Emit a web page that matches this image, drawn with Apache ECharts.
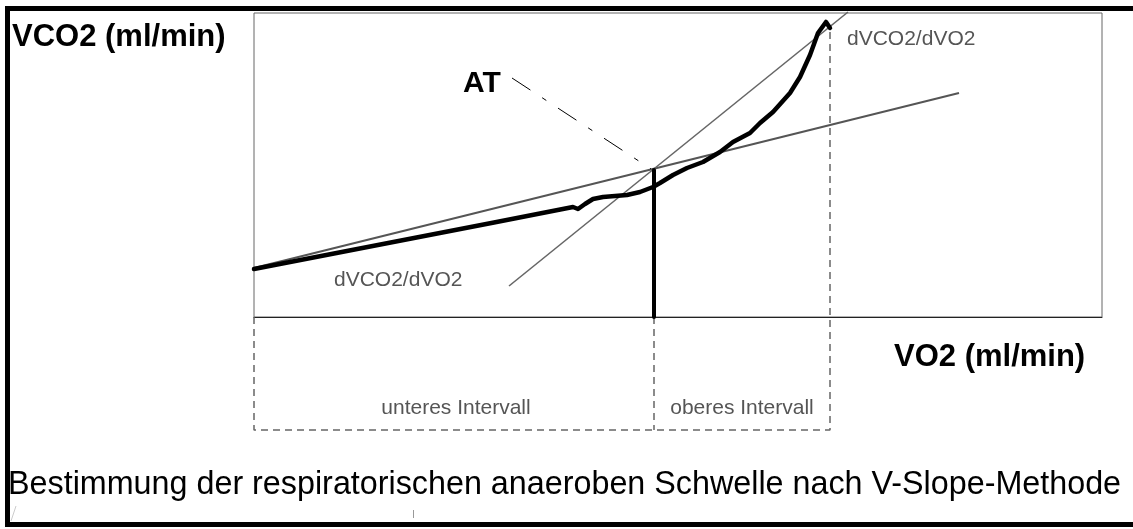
<!DOCTYPE html>
<html><head><meta charset="utf-8">
<script src="https://cdn.jsdelivr.net/npm/echarts@6/dist/echarts.min.js"></script>
<style>html,body{margin:0;padding:0;background:#fff}#c{width:1133px;height:529px}</style>
</head><body><div id="c"></div>
<script>
const curveVO2  = [0, 80, 160, 240, 319, 324, 331, 339, 349, 361, 373, 386, 399, 406, 419, 433, 449, 466, 479, 496, 506, 519, 536, 546, 556, 564, 572, 576];
const curveVCO2 = [48, 63.5, 79, 94.5, 110, 108, 113, 118, 120, 121, 122, 125, 130, 134, 142, 149, 155, 165, 175, 184, 194, 205, 224, 240, 262, 284, 295, 289];
// regression lines (dVCO2/dVO2)
const lowerSlopeVO2  = [0, 705];
const lowerSlopeVCO2 = [49, 224];
const upperSlopeVO2  = [255, 594];
const upperSlopeVCO2 = [31, 305];
// anaerobic threshold
const atVO2 = 400;
const atVCO2 = 147;
const atLabelVO2 = 258, atLabelVCO2 = 239;
// intervals
const intervalStart = 0, intervalEnd = 576, intervalTopEnd = 289, intervalFloor = -113;
const xMax = 848, yMax = 304;
// texts
const yTitle = 'VCO2 (ml/min)';
const xTitle = 'VO2 (ml/min)';
const atText = 'AT';
const slopeText = 'dVCO2/dVO2';
const lowerIntervalText = 'unteres Intervall';
const upperIntervalText = 'oberes Intervall';
const caption = 'Bestimmung der respiratorischen anaeroben Schwelle nach V-Slope-Methode';

const zip = (a, b) => a.map((v, i) => [v, b[i]]);
const FONT = '"Liberation Sans", Arial, sans-serif';
const chart = echarts.init(document.getElementById('c'), null, {renderer: 'canvas'});

function txt(text, x, y, size, weight, color, align) {
  return {type: 'text', x: 0, y: 0, silent: true,
    style: {text: text, x: x, y: y, font: weight + ' ' + size + 'px ' + FONT, fill: color,
      textAlign: align || 'left', align: align || 'left', textVerticalAlign: 'middle', verticalAlign: 'middle'}};
}
const dashed = {color: '#666', width: 1.5, type: [7, 5]};

chart.setOption({
  animation: false,
  backgroundColor: '#fff',
  grid: {left: 254, top: 13, width: 848, height: 304, show: true, borderColor: '#666', borderWidth: 1, containLabel: false},
  xAxis: {type: 'value', min: 0, max: xMax, axisLine: {show: true, lineStyle: {color: '#222', width: 1}}, axisTick: {show: false}, axisLabel: {show: false}, splitLine: {show: false}},
  yAxis: {type: 'value', min: 0, max: yMax, axisLine: {show: false}, axisTick: {show: false}, axisLabel: {show: false}, splitLine: {show: false}},
  series: [
    {type: 'line', data: zip(lowerSlopeVO2, lowerSlopeVCO2), symbol: 'none', lineStyle: {color: '#555', width: 2}, clip: false, z: 2},
    {type: 'line', data: zip(upperSlopeVO2, upperSlopeVCO2), symbol: 'none', lineStyle: {color: '#666', width: 1.6}, clip: false, z: 2},
    {type: 'line', data: [[atLabelVO2, atLabelVCO2], [atVO2 - 3, atVCO2 + 1]], symbol: 'none', lineStyle: {color: '#000', width: 1, type: [22, 14, 5, 14]}, clip: false, z: 2},
    {type: 'line', data: zip(curveVO2, curveVCO2), symbol: 'none', lineStyle: {color: '#000', width: 4.5, join: 'round', cap: 'round'}, clip: false, z: 4},
    {type: 'line', data: [[atVO2, atVCO2], [atVO2, 0]], symbol: 'none', lineStyle: {color: '#000', width: 4, cap: 'round'}, clip: false, z: 4},
    {type: 'line', data: [[intervalStart, 0], [intervalStart, intervalFloor], [intervalEnd, intervalFloor], [intervalEnd, intervalTopEnd]], symbol: 'none', lineStyle: dashed, clip: false, z: 1},
    {type: 'line', data: [[atVO2, 0], [atVO2, intervalFloor]], symbol: 'none', lineStyle: dashed, clip: false, z: 1}
  ],
  graphic: [
    {type: 'line', silent: true, shape: {x1: 7.5, y1: 6, x2: 7.5, y2: 527}, style: {stroke: '#000', lineWidth: 5}},
    {type: 'line', silent: true, shape: {x1: 5, y1: 8.5, x2: 1133, y2: 8.5}, style: {stroke: '#000', lineWidth: 5}},
    {type: 'line', silent: true, shape: {x1: 5, y1: 524.5, x2: 1133, y2: 524.5}, style: {stroke: '#000', lineWidth: 5}},
    {type: 'line', silent: true, shape: {x1: 11, y1: 521, x2: 16, y2: 506}, style: {stroke: '#ccc', lineWidth: 1}},
    {type: 'line', silent: true, shape: {x1: 413.5, y1: 510, x2: 413.5, y2: 518}, style: {stroke: '#999', lineWidth: 1}},
    txt(yTitle, 12, 37.5, 31, 'bold', '#000'),
    txt(xTitle, 894, 357, 31, 'bold', '#000'),
    txt(atText, 463, 83.5, 30, 'bold', '#000'),
    txt(slopeText, 334, 280.5, 21, 'normal', '#555'),
    txt(slopeText, 847, 39.5, 21, 'normal', '#555'),
    txt(lowerIntervalText, 456, 408.5, 21, 'normal', '#555', 'center'),
    txt(upperIntervalText, 742, 408.5, 21, 'normal', '#555', 'center'),
    txt(caption, 8, 485, 32.3, 'normal', '#000')
  ]
});
</script></body></html>
